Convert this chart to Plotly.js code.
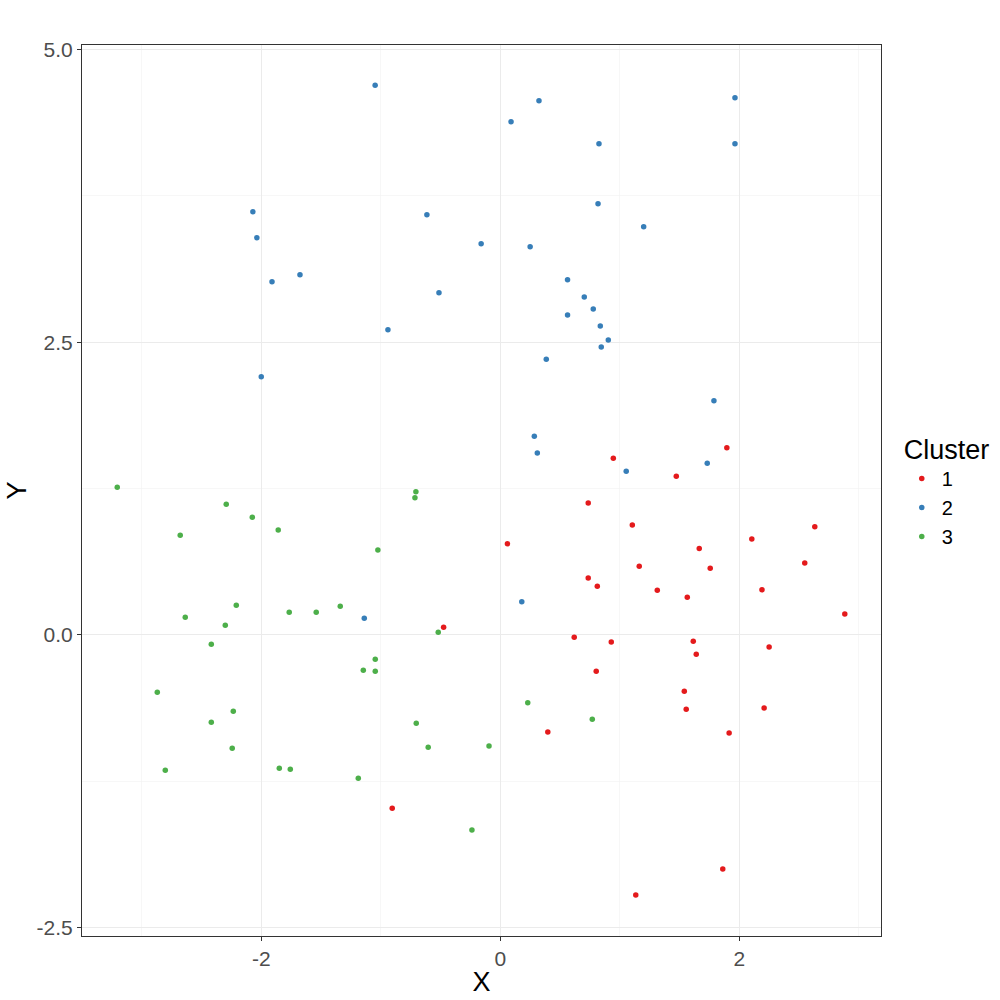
<!DOCTYPE html>
<html>
<head>
<meta charset="utf-8">
<script src="https://cdn.plot.ly/plotly-3.0.1.min.js"></script>
<style>html,body{margin:0;padding:0;background:#fff;}#plot{width:1000px;height:1000px;}</style>
</head>
<body>
<div id="plot"></div>
<script>
// Cluster 1 (red)
const c1x = [0.946, 1.473, 0.736, 1.105, 1.665, 1.896, 0.06, 2.632, 2.105, 1.163, 1.757, 0.736, 0.812, 1.314, 1.565, 0.619, 0.929, 1.615, 1.64, 0.803, 1.54, 1.556, 2.548, 2.19, 2.883, 2.25, 2.208, 1.915, 0.398, -0.474, -0.904, 1.862, 1.134];
const c1y = [1.51, 1.356, 1.126, 0.938, 0.738, 1.598, 0.778, 0.923, 0.82, 0.587, 0.57, 0.485, 0.416, 0.382, 0.322, -0.02, -0.062, -0.054, -0.165, -0.31, -0.481, -0.635, 0.615, 0.385, 0.179, -0.103, -0.624, -0.838, -0.829, 0.066, -1.481, -2.0, -2.222];
// Cluster 2 (blue)
const c2x = [-1.047, 0.09, 0.324, 0.826, 1.964, 1.964, -2.07, -2.037, -0.614, 0.818, 1.2, -0.16, 0.25, -1.676, -1.91, 0.563, -0.513, 0.703, 0.778, 0.563, 0.837, 0.904, 0.845, 0.385, -0.94, -2.0, 1.788, 0.285, 0.31, 1.054, 1.732, 0.18, -1.138];
const c2y = [4.697, 4.385, 4.564, 4.197, 4.59, 4.197, 3.615, 3.393, 3.59, 3.684, 3.487, 3.342, 3.316, 3.077, 3.017, 3.034, 2.923, 2.886, 2.784, 2.732, 2.638, 2.519, 2.459, 2.356, 2.607, 2.205, 2.0, 1.698, 1.553, 1.399, 1.467, 0.282, 0.143];
// Cluster 3 (green)
const c3x = [-3.205, -2.678, -2.293, -2.075, -1.858, -0.706, -0.714, -1.024, -2.209, -2.636, -2.301, -1.766, -1.54, -1.339, -0.519, -2.418, -1.046, -1.146, -1.046, -2.87, -2.234, -2.418, -0.703, -2.243, -0.603, -2.803, -1.849, -1.757, -1.188, -0.094, 0.23, 0.77, -0.237];
const c3y = [1.262, 0.852, 1.117, 1.006, 0.895, 1.222, 1.171, 0.726, 0.254, 0.151, 0.083, 0.194, 0.194, 0.245, 0.023, -0.08, -0.208, -0.302, -0.31, -0.49, -0.652, -0.746, -0.755, -0.968, -0.96, -1.156, -1.139, -1.148, -1.225, -0.949, -0.581, -0.72, -1.667];

const clusterNames = ["1", "2", "3"];
const clusterColors = ["#E41A1C", "#377EB8", "#4DAF4A"];
const xs = [c1x, c2x, c3x];
const ys = [c1y, c2y, c3y];

const font = "Liberation Sans, Arial, sans-serif";
const traces = clusterNames.map((n, i) => ({
  type: "scatter", mode: "markers", name: n,
  x: xs[i], y: ys[i],
  marker: {color: clusterColors[i], size: 5.5},
  cliponaxis: true
}));

const layout = {
  width: 1000, height: 1000,
  paper_bgcolor: "#fff", plot_bgcolor: "#fff",
  margin: {l: 82, r: 119, t: 45, b: 64, pad: 0, autoexpand: false},
  font: {family: font, color: "#000"},
  showlegend: true,
  legend: {
    x: 1.026, xanchor: "left", y: 0.5, yanchor: "middle",
    title: {text: "Cluster", font: {size: 27, family: font, color: "#000"}},
    font: {size: 20, family: font, color: "#000"},
    itemsizing: "trace", tracegroupgap: 0, itemwidth: 30
  },
  xaxis: {
    range: [-3.50, 3.186], tickvals: [-2, 0, 2], ticktext: ["-2", "0", "2"],
    showgrid: true, gridcolor: "#EBEBEB", gridwidth: 1.1,
    minor: {tickvals: [-3, -1, 1, 3], showgrid: true, gridcolor: "#F2F2F2", gridwidth: 0.6, ticks: ""},
    zeroline: false, showline: true, mirror: true, linecolor: "#333333", linewidth: 1.1,
    ticks: "outside", ticklen: 4, tickcolor: "#333333", tickwidth: 1.1,
    tickfont: {size: 21, color: "#4D4D4D", family: font},
    title: {text: "X", font: {size: 27, color: "#000", family: font}, standoff: 2},
    automargin: false
  },
  yaxis: {
    range: [-2.573, 5.04], tickvals: [-2.5, 0, 2.5, 5], ticktext: ["-2.5", "0.0", "2.5", "5.0"],
    showgrid: true, gridcolor: "#EBEBEB", gridwidth: 1.1,
    minor: {tickvals: [-1.25, 1.25, 3.75], showgrid: true, gridcolor: "#F2F2F2", gridwidth: 0.6, ticks: ""},
    zeroline: false, showline: true, mirror: true, linecolor: "#333333", linewidth: 1.1,
    ticks: "outside", ticklen: 4, tickcolor: "#333333", tickwidth: 1.1,
    tickfont: {size: 21, color: "#4D4D4D", family: font},
    title: {text: "Y", font: {size: 27, color: "#000", family: font}, standoff: 2},
    automargin: false
  }
};

Plotly.newPlot("plot", traces, layout, {displayModeBar: false, staticPlot: true});
</script>
</body>
</html>
